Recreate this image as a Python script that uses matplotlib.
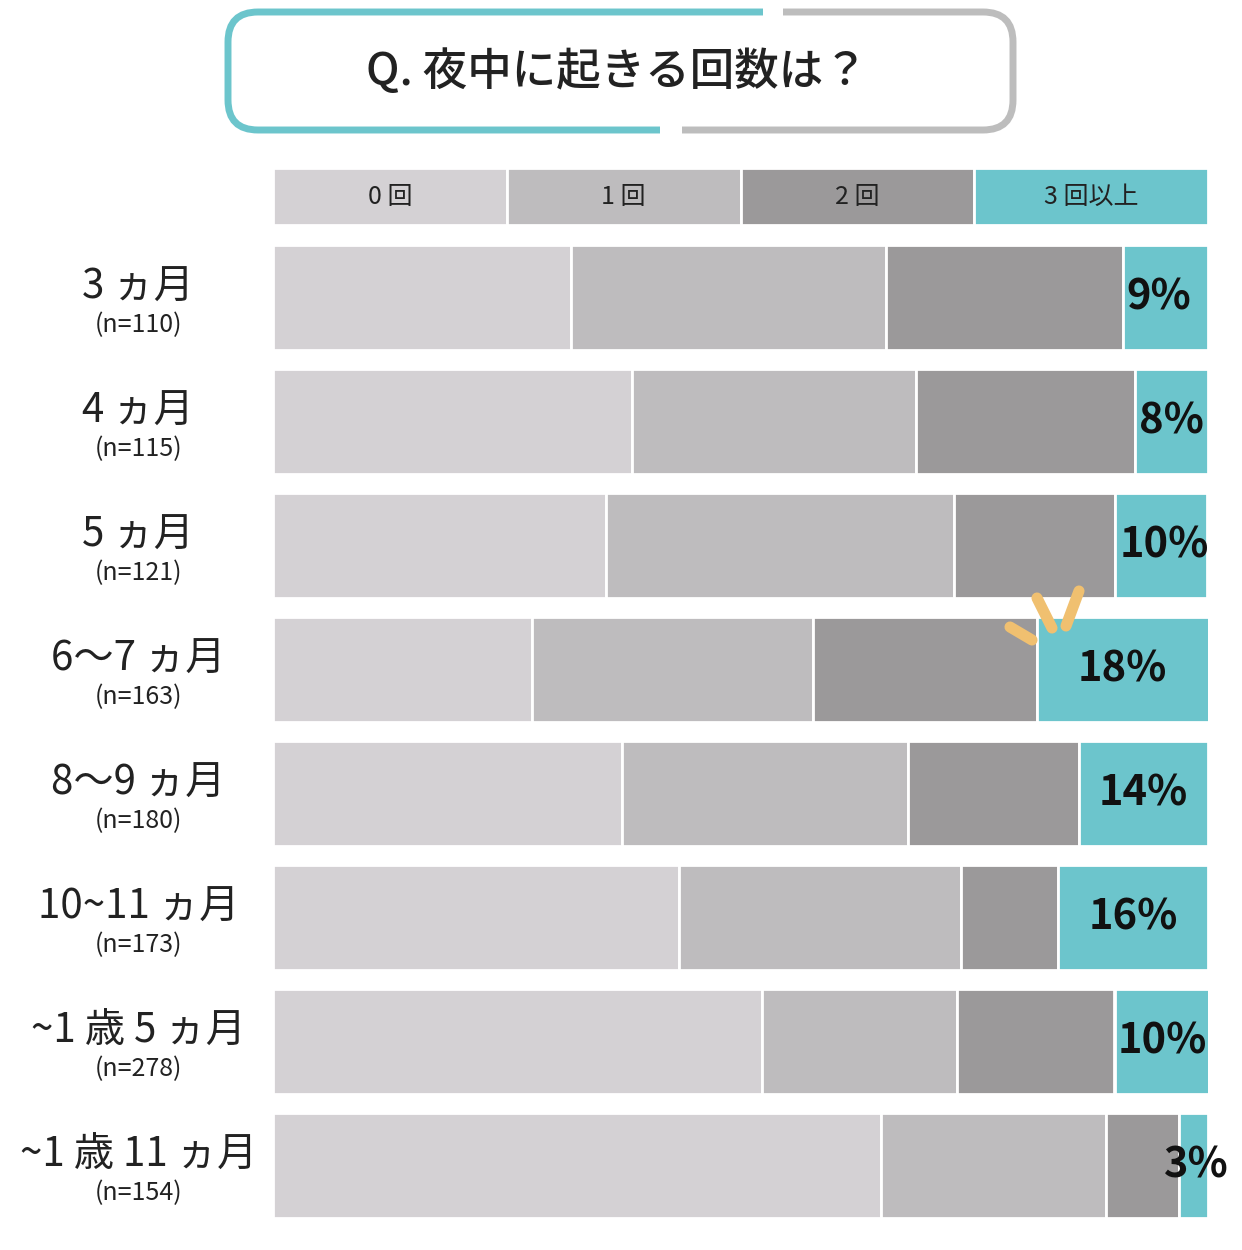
import matplotlib
matplotlib.use("Agg")
import matplotlib.pyplot as plt
from matplotlib.patches import FancyBboxPatch, Polygon
import numpy as np

plt.rcParams['font.family'] = ['Noto Sans CJK JP', 'DejaVu Sans']

categories = ["3 ヵ月", "4 ヵ月", "5 ヵ月", "6～7 ヵ月", "8～9 ヵ月", "10~11 ヵ月", "~1 歳 5 ヵ月", "~1 歳 11 ヵ月"]
n_labels = ["(n=110)", "(n=115)", "(n=121)", "(n=163)", "(n=180)", "(n=173)", "(n=278)", "(n=154)"]
zero = [31.9, 38.4, 35.6, 27.7, 37.3, 43.4, 52.3, 65.0]
one = [33.7, 30.4, 37.2, 30.1, 30.6, 30.2, 20.9, 24.1]
two = [25.3, 23.4, 17.3, 23.9, 18.3, 10.4, 16.8, 7.8]
three = [9.1, 7.8, 9.8, 18.4, 13.8, 16.0, 10.1, 3.1]
three_labels = ["9%", "8%", "10%", "18%", "14%", "16%", "10%", "3%"]
legend_labels = ["0 回", "1 回", "2 回", "3 回以上"]
colors = ["#d4d1d4", "#bebcbe", "#9b999a", "#6cc5cc"]

fig = plt.figure(figsize=(12.42, 12.5), dpi=100)
W, H = 1242, 1250
L, R = 273 / W, 1208 / W
ax = fig.add_axes([L, 1 - 1218 / H, R - L, (1218 - 245) / H])
y = np.arange(len(categories))
hb = 0.847
left = np.zeros(len(categories))
for vals, c in zip([zero, one, two, three], colors):
    ax.barh(y, vals, left=left, height=hb, color=c, edgecolor="white", linewidth=2)
    left += np.array(vals)
ax.set_xlim(0, 100)
ax.set_ylim(7 + hb / 2, -hb / 2)
ax.axis("off")

for i in range(len(categories)):
    start = 100 - three[i]
    if three[i] >= 13:
        ax.text(start + three[i] / 2, i, three_labels[i], ha="center", va="center",
                fontsize=30, fontweight="bold", color="#111")
    elif three[i] < 5:
        ax.text(102.2, i, three_labels[i], ha="right", va="center",
                fontsize=30, fontweight="bold", color="#111")
    else:
        ax.text(start + 0.4, i, three_labels[i], ha="left", va="center",
                fontsize=30, fontweight="bold", color="#111")
    ax.text(-14.4, i - 0.08, categories[i], ha="center", va="center", fontsize=29, color="#222")
    ax.text(-14.4, i + 0.22, n_labels[i], ha="center", va="center", fontsize=18, color="#222")

# legend header
lax = fig.add_axes([L, 1 - 225 / H, R - L, 57 / H])
for k, (lab, c) in enumerate(zip(legend_labels, colors)):
    lax.barh(0, 25, left=25 * k, height=1, color=c, edgecolor="white", linewidth=2)
    lax.text(25 * k + 12.5, 0, lab, ha="center", va="center", fontsize=18, color="#222")
lax.set_xlim(0, 100); lax.set_ylim(-0.5, 0.5); lax.axis("off")

# title box
tax = fig.add_axes([0, 0, 1, 1]); tax.set_xlim(0, W); tax.set_ylim(H, 0); tax.axis("off")
teal_clip = Polygon([(150, -10), (763, -10), (763, 71), (660, 71), (660, 160), (150, 160)],
                    closed=True, transform=tax.transData, visible=False)
grey_clip = Polygon([(783, -10), (1100, -10), (1100, 160), (682, 160), (682, 71), (783, 71)],
                    closed=True, transform=tax.transData, visible=False)
tax.add_patch(teal_clip); tax.add_patch(grey_clip)
b1 = FancyBboxPatch((228, 12), 785, 118, boxstyle="round,pad=0,rounding_size=30",
                    fill=False, edgecolor="#6cc5cc", linewidth=5)
b2 = FancyBboxPatch((228, 12), 785, 118, boxstyle="round,pad=0,rounding_size=30",
                    fill=False, edgecolor="#bdbdbd", linewidth=5)
tax.add_patch(b1); tax.add_patch(b2)
b1.set_clip_path(teal_clip); b2.set_clip_path(grey_clip)
tax.text(617, 72, "Q. 夜中に起きる回数は？", ha="center", va="center", fontsize=32,
         fontweight="medium", color="#222", zorder=4)
for (x0, y0, x1, y1) in [(1010, 627, 1032, 640), (1037, 598, 1052, 628), (1066, 626, 1079, 591)]:
    tax.plot([x0, x1], [y0, y1], color="#f0c070", lw=8, solid_capstyle="round", zorder=5)

fig.savefig("out.png", dpi=100)
